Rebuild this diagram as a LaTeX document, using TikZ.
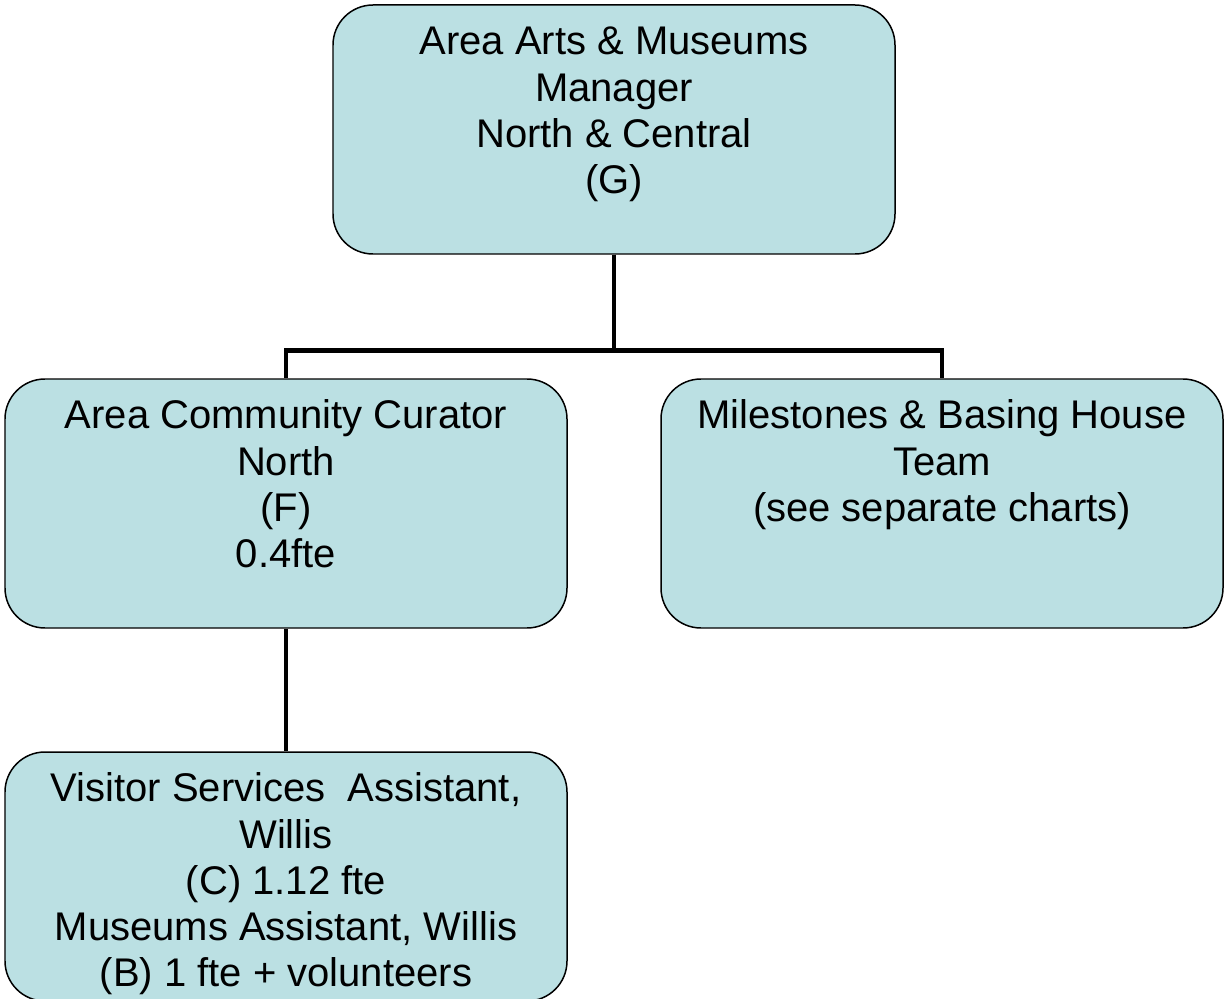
\documentclass[tikz,border=0pt]{standalone}
\usepackage{fontspec}
\setmainfont{Liberation Sans}
\definecolor{boxblue}{RGB}{187,224,227}
% box text hangs from the top of the box
\newcommand{\toptext}[1]{\parbox[c][4.98cm][t]{11.24cm}{\centering\vspace*{0.355cm}\strut #1}}
\begin{document}
\begin{tikzpicture}
\tikzstyle{post}=[draw,line width=0.85pt,fill=boxblue,rounded corners=0.8cm,inner sep=0pt,
  font=\fontsize{22.76pt}{26.2pt}\selectfont]
\tikzstyle{link}=[line width=2.8pt]
\useasboundingbox (0,0) rectangle (24.5,-19.98);
\node[post](g) at (12.28,-2.59) {\toptext{Area Arts \& Museums\\Manager\\North \& Central\\(G)}};
\node[post](f) at (5.72,-10.07) {\toptext{Area Community Curator\\North\\(F)\\0.4fte}};
\node[post](m) at (18.84,-10.07) {\toptext{Milestones \& Basing House\\Team\\(see separate charts)}};
\node[post](v) at (5.72,-17.53) {\toptext{Visitor Services\ \ Assistant,\\Willis\\(C) 1.12 fte\\Museums Assistant, Willis\\(B) 1 fte + volunteers}};
\draw[link] (g.south) -- +(0,-1.92) -| (f.north);
\draw[link] (g.south) -- +(0,-1.92) -| (m.north);
\draw[link] (f.south) -- (v.north);
\end{tikzpicture}
\end{document}
